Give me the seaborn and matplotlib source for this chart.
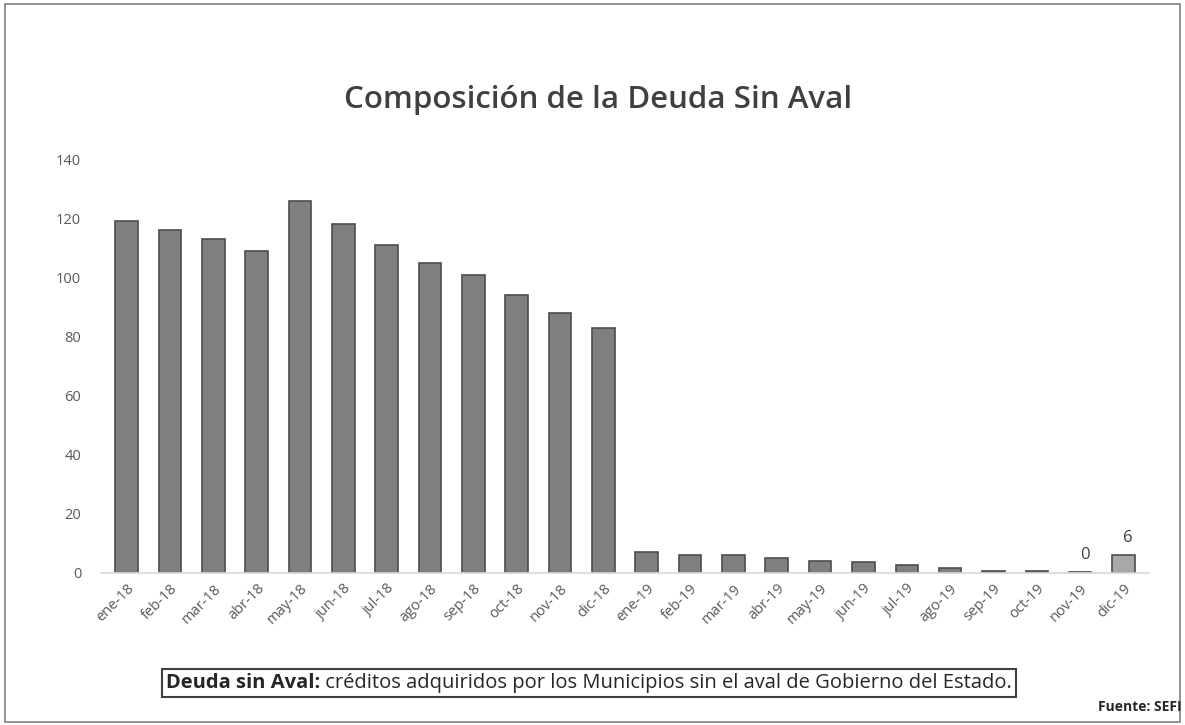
import matplotlib
matplotlib.use("Agg")
import matplotlib.pyplot as plt
import seaborn as sns
import pandas as pd
from matplotlib.offsetbox import TextArea, HPacker, AnchoredOffsetbox
from matplotlib.patches import Rectangle

months = ["ene-18", "feb-18", "mar-18", "abr-18", "may-18", "jun-18", "jul-18", "ago-18",
          "sep-18", "oct-18", "nov-18", "dic-18", "ene-19", "feb-19", "mar-19", "abr-19",
          "may-19", "jun-19", "jul-19", "ago-19", "sep-19", "oct-19", "nov-19", "dic-19"]
values = [119, 116, 113, 109, 126, 118, 111, 105, 101, 94, 88, 83,
          7, 6, 6, 5, 4, 3.5, 2.5, 1.5, 0.6, 0.5, 0.4, 6]
labeled = {"nov-19": "0", "dic-19": "6"}
yticks = [0, 20, 40, 60, 80, 100, 120, 140]

sns.set_theme(style="white")
plt.rcParams["font.family"] = ["Open Sans", "DejaVu Sans"]

df = pd.DataFrame({"mes": months, "valor": values})
colors = ["#7f7f7f"] * (len(months) - 1) + ["#a8a8a8"]

fig = plt.figure(figsize=(11.85, 7.25), dpi=100)
ax = fig.add_axes([0.085, 0.21, 0.885, 0.57])
sns.barplot(data=df, x="mes", y="valor", hue="mes", palette=colors, legend=False,
            width=0.52, edgecolor="#4d4d4d", linewidth=1.2, ax=ax, saturation=1)

ax.set_ylim(0, 140)
ax.set_yticks(yticks)
ax.set_xlim(-0.6, len(months) - 0.4)
ax.set_xlabel("")
ax.set_ylabel("")
for s in ["top", "right", "left"]:
    ax.spines[s].set_visible(False)
ax.spines["bottom"].set_color("#d9d9d9")
ax.tick_params(axis="y", colors="#595959", labelsize=10.5, length=0, pad=14)
ax.tick_params(axis="x", colors="#595959", labelsize=10.5, length=0, pad=6)
plt.setp(ax.get_xticklabels(), rotation=45, ha="right", rotation_mode="anchor")

for i, (m, v) in enumerate(zip(months, values)):
    if m in labeled:
        ax.text(i + 0.1, v + 3, labeled[m], ha="center", va="bottom", fontsize=12, color="#404040")

fig.text(0.505, 0.862, "Composición de la Deuda Sin Aval", ha="center", va="center",
         fontsize=22.5, fontweight="semibold", color="#404040")

t1 = TextArea("Deuda sin Aval:", textprops=dict(fontsize=14.5, fontweight="bold", color="#262626"))
t2 = TextArea(" créditos adquiridos por los Municipios sin el aval de Gobierno del Estado.",
              textprops=dict(fontsize=14.5, color="#262626"))
box = HPacker(children=[t1, t2], align="baseline", pad=0, sep=0)
anch = AnchoredOffsetbox(loc="center", child=box, pad=0.25, borderpad=0, frameon=True,
                         bbox_to_anchor=(0.497, 0.058), bbox_transform=fig.transFigure)
anch.patch.set_edgecolor("#404040")
anch.patch.set_linewidth(1.5)
fig.add_artist(anch)

fig.text(0.997, 0.025, "Fuente: SEFI", ha="right", va="center", fontsize=10,
         fontweight="bold", color="#262626")

fig.add_artist(Rectangle((0.004, 0.004), 0.992, 0.99, transform=fig.transFigure,
                         fill=False, edgecolor="#7f7f7f", linewidth=1.2))

fig.savefig("out.png", dpi=100)
